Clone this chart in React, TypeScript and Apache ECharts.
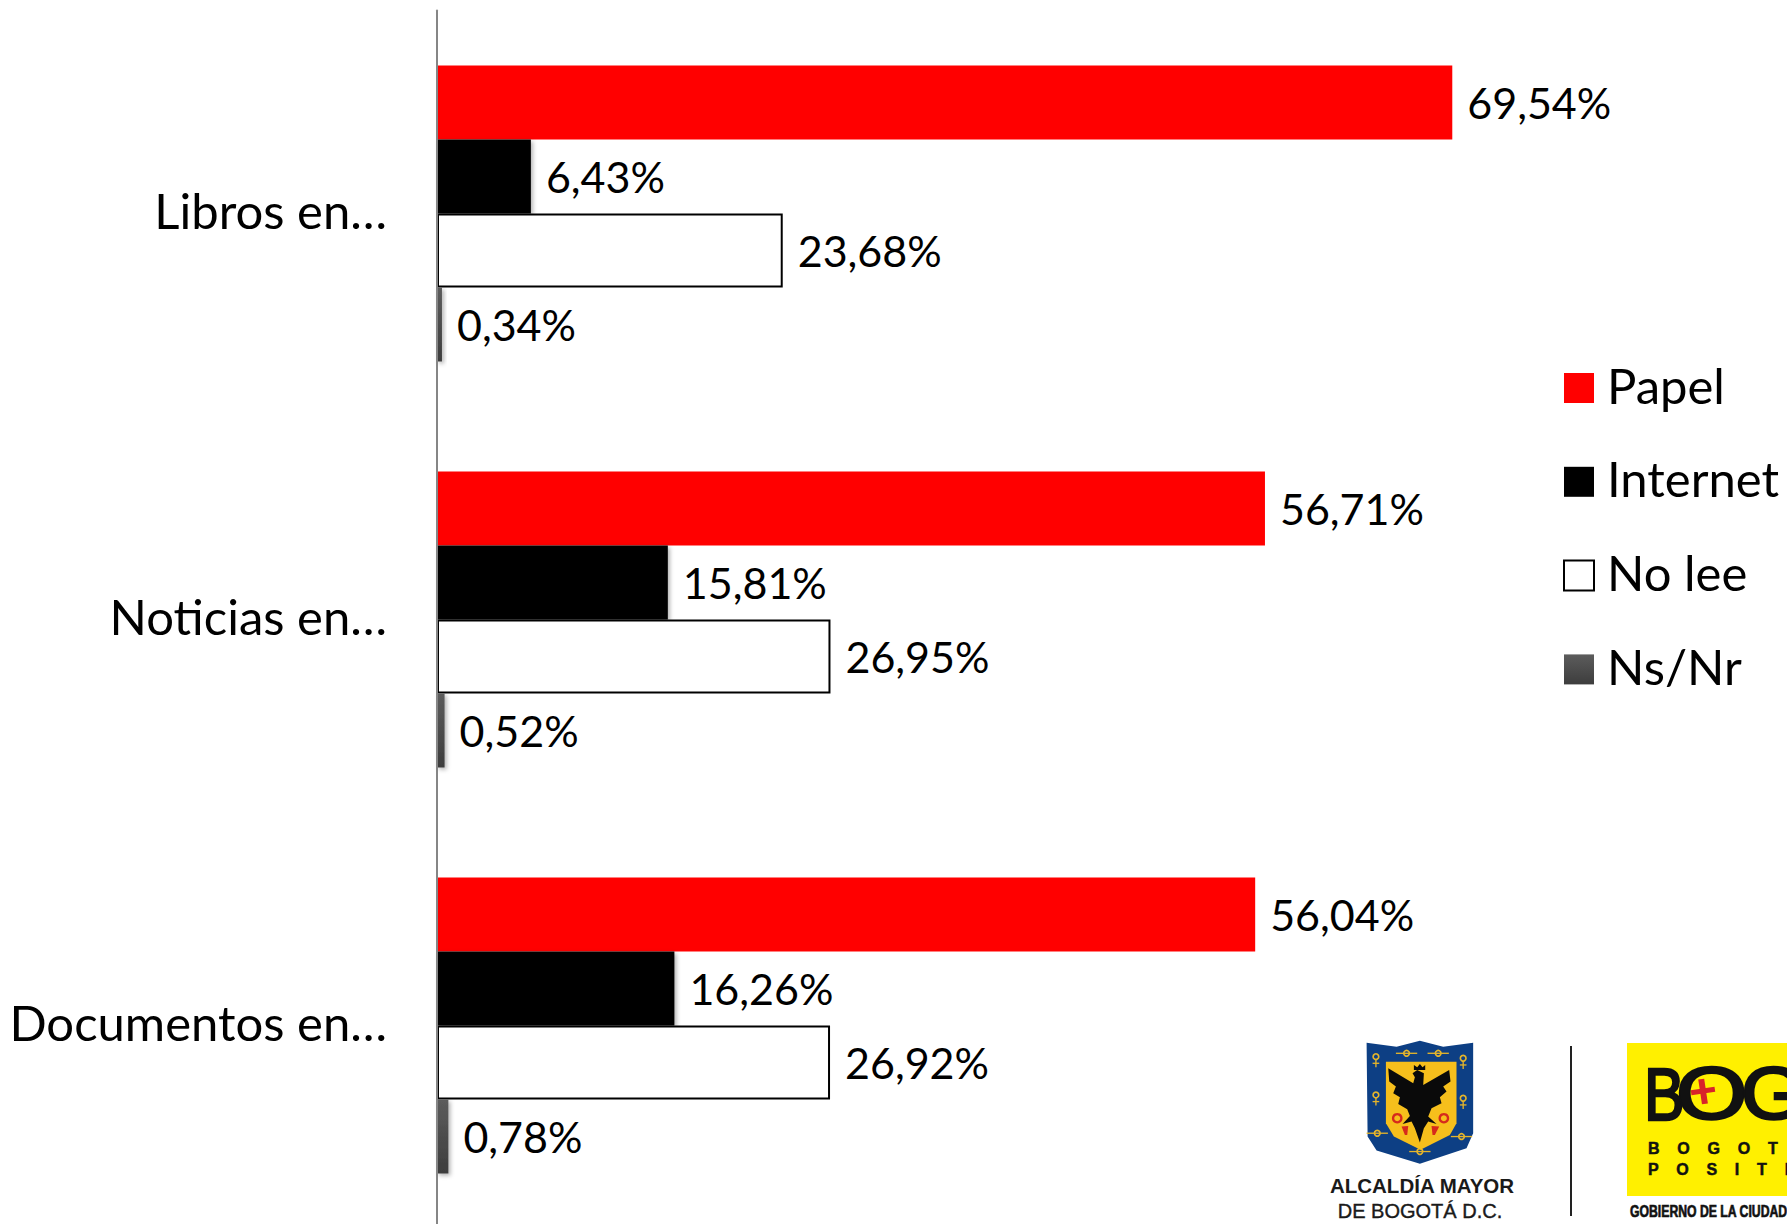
import React, { useEffect, useRef } from "react";
import * as echarts from "echarts";

const categories = ["Libros en…", "Noticias en…", "Documentos en…"];
const papel = [69.54, 56.71, 56.04];
const internet = [6.43, 15.81, 16.26];
const noLee = [23.68, 26.95, 26.92];
const nsNr = [0.34, 0.52, 0.78];

const FONT = "Lato";
const LABEL_SIZE = 43;
const BIG_SIZE = 49;

const fmt = (p: any) => p.value.toFixed(2).replace(".", ",") + "%";
const nsGradient = new echarts.graphic.LinearGradient(0, 0, 0, 1, [
  { offset: 0, color: "#5c5c5c" },
  { offset: 1, color: "#3d3d3d" },
]);
const softShadow = { shadowColor: "rgba(0,0,0,0.3)", shadowBlur: 4, shadowOffsetX: 2, shadowOffsetY: 2 };

function series(name: string, data: number[], itemStyle: any) {
  return {
    name,
    type: "bar",
    data,
    barWidth: 74,
    barGap: 0,
    itemStyle,
    label: {
      show: true,
      position: "right",
      distance: 15,
      formatter: fmt,
      fontFamily: FONT,
      fontSize: LABEL_SIZE,
      color: "#000",
    },
  };
}

const eagle = [
  [265, 145], [340, 190], [345, 172], [338, 160], [352, 150], [372, 160], [370, 195], [448, 150], [452, 185],
  [430, 200], [440, 215], [420, 232], [425, 250], [395, 265], [385, 290], [410, 312], [385, 305], [372, 325],
  [360, 368], [345, 325], [335, 305], [308, 312], [330, 288], [322, 268], [295, 252], [300, 232], [280, 220], [288, 200], [268, 185],
];

function ornament(x: number, y: number) {
  return [
    { type: "ring", shape: { cx: x, cy: y, r: 11, r0: 6 }, style: { fill: "#e5b52b" } },
    { type: "rect", shape: { x: x - 2, y: y + 8, width: 4, height: 24 }, style: { fill: "#e5b52b" } },
    { type: "rect", shape: { x: x - 10, y: y + 18, width: 20, height: 4 }, style: { fill: "#e5b52b" } },
  ];
}
function ornamentH(x: number, y: number) {
  return [
    { type: "ring", shape: { cx: x, cy: y, r: 11, r0: 6 }, style: { fill: "#e5b52b" } },
    { type: "rect", shape: { x: x - 32, y: y - 2, width: 64, height: 4 }, style: { fill: "#e5b52b" } },
  ];
}

const logoGroup = {
  type: "group",
  x: 1300,
  y: 1020,
  scaleX: 1 / 3,
  scaleY: 1 / 3,
  children: [
    {
      type: "polygon",
      shape: {
        points: [[200, 68], [290, 80], [360, 62], [430, 80], [520, 68], [520, 340], [500, 385], [360, 432], [230, 392], [203, 350]],
      },
      style: { fill: "#0d3f84" },
    },
    ...ornamentH(320, 100),
    ...ornamentH(415, 100),
    ...ornament(228, 110),
    ...ornament(490, 115),
    ...ornament(228, 225),
    ...ornament(490, 235),
    ...ornamentH(232, 340),
    ...ornamentH(485, 350),
    ...ornamentH(360, 395),
    {
      type: "polygon",
      shape: { points: [[258, 125], [470, 125], [470, 310], [450, 345], [362, 390], [282, 350], [258, 310]] },
      style: { fill: "#f6bf1c" },
    },
    { type: "polygon", shape: { points: eagle }, style: { fill: "#0a0a0a" } },
    { type: "polygon", shape: { points: [[342, 150], [342, 135], [352, 142], [360, 132], [368, 142], [376, 135], [376, 150]] }, style: { fill: "#0a0a0a" } },
    { type: "ring", shape: { cx: 292, cy: 295, r: 16, r0: 9 }, style: { fill: "#d62a1c" } },
    { type: "ring", shape: { cx: 432, cy: 295, r: 16, r0: 9 }, style: { fill: "#d62a1c" } },
    { type: "polygon", shape: { points: [[305, 320], [325, 318], [322, 345], [315, 345]] }, style: { fill: "#d62a1c" } },
    { type: "polygon", shape: { points: [[395, 318], [418, 320], [405, 345], [398, 345]] }, style: { fill: "#d62a1c" } },
  ],
};

function bigLetter(ch: string, x: number, scaleX: number) {
  return {
    type: "text",
    x,
    y: 1094,
    scaleX,
    style: { text: ch, font: "74px 'Liberation Sans'", fill: "#111", stroke: "#111", lineWidth: 2.5, align: "left", verticalAlign: "middle" },
  };
}

const graphicElements: any[] = [
  logoGroup,
  {
    type: "text", x: 1422, y: 1185,
    style: { text: "ALCALDÍA MAYOR", font: "bold 20.5px 'Liberation Sans'", fill: "#1a1a1a", align: "center", verticalAlign: "middle" },
  },
  {
    type: "text", x: 1420, y: 1211,
    style: { text: "DE BOGOTÁ D.C.", font: "20px 'Liberation Sans'", fill: "#1a1a1a", stroke: "#1a1a1a", lineWidth: 0.4, align: "center", verticalAlign: "middle" },
  },
  { type: "rect", shape: { x: 1570, y: 1046, width: 2, height: 170 }, style: { fill: "#222" } },
  { type: "rect", shape: { x: 1627, y: 1043, width: 160, height: 153 }, style: { fill: "#fff000" } },
  bigLetter("B", 1644, 0.82),
  bigLetter("O", 1676, 1.24),
  bigLetter("G", 1741, 1.12),
  {
    type: "group", x: 1703, y: 1091, rotation: 0.15,
    children: [
      { type: "rect", shape: { x: -12, y: -2.5, width: 24, height: 5 }, style: { fill: "#d8232a" } },
      { type: "rect", shape: { x: -3, y: -12, width: 6, height: 25 }, style: { fill: "#d8232a" } },
    ],
  },
  {
    type: "text", x: 1648, y: 1148,
    style: { text: "B    O    G    O    T    Á", font: "bold 16px 'Liberation Sans'", fill: "#111", stroke: "#111", lineWidth: 0.5, align: "left", verticalAlign: "middle" },
  },
  {
    type: "text", x: 1648, y: 1169,
    style: { text: "P    O    S    I    T    I    V    A", font: "bold 16px 'Liberation Sans'", fill: "#111", stroke: "#111", lineWidth: 0.5, align: "left", verticalAlign: "middle" },
  },
  {
    type: "text", x: 1630, y: 1211, scaleX: 0.72,
    style: { text: "GOBIERNO DE LA CIUDAD", font: "bold 17px 'Liberation Sans'", fill: "#111", stroke: "#111", lineWidth: 0.7, align: "left", verticalAlign: "middle" },
  },
];

export default function App() {
  const ref = useRef<HTMLDivElement>(null);
  useEffect(() => {
    document.body.style.margin = "0";
    document.body.style.background = "#fff";
    const chart = echarts.init(ref.current!, null, { renderer: "svg" });
    chart.setOption({
      animation: false,
      backgroundColor: "#fff",
      grid: { left: 437, top: 10.5, width: 1168, height: 1218, outerBoundsMode: "none" },
      xAxis: { type: "value", min: 0, max: 80, show: false },
      yAxis: {
        type: "category",
        data: categories,
        inverse: true,
        z: 5,
        axisLine: { show: true, lineStyle: { color: "#868686", width: 2 } },
        axisTick: { show: false },
        axisLabel: {
          margin: 50,
          formatter: "{t|{value}}",
          rich: { t: { fontFamily: FONT, fontSize: BIG_SIZE, color: "#000", padding: [0, 0, 8, 0] } },
        },
      },
      legend: {
        orient: "vertical",
        left: 1563,
        top: 360,
        padding: 0,
        itemWidth: 30,
        itemHeight: 30,
        itemGap: 44.8,
        icon: "rect",
        itemStyle: { shadowBlur: 0, shadowOffsetX: 0, shadowOffsetY: 0 },
        formatter: "{t|{name}}",
        textStyle: {
          rich: { t: { fontFamily: FONT, fontSize: BIG_SIZE, color: "#000", padding: [0, 0, 7, 8] } },
        },
        data: ["Papel", "Internet", "No lee", "Ns/Nr"],
      },
      series: [
        series("Papel", papel, { color: "#ff0000" }),
        series("Internet", internet, { color: "#000000", ...softShadow }),
        series("No lee", noLee, { color: "#ffffff", borderColor: "#000000", borderWidth: 2 }),
        series("Ns/Nr", nsNr, { color: nsGradient, ...softShadow }),
      ],
      graphic: { elements: graphicElements },
    });
    return () => chart.dispose();
  }, []);
  return <div ref={ref} style={{ width: 1787, height: 1224, overflow: "hidden" }} />;
}
